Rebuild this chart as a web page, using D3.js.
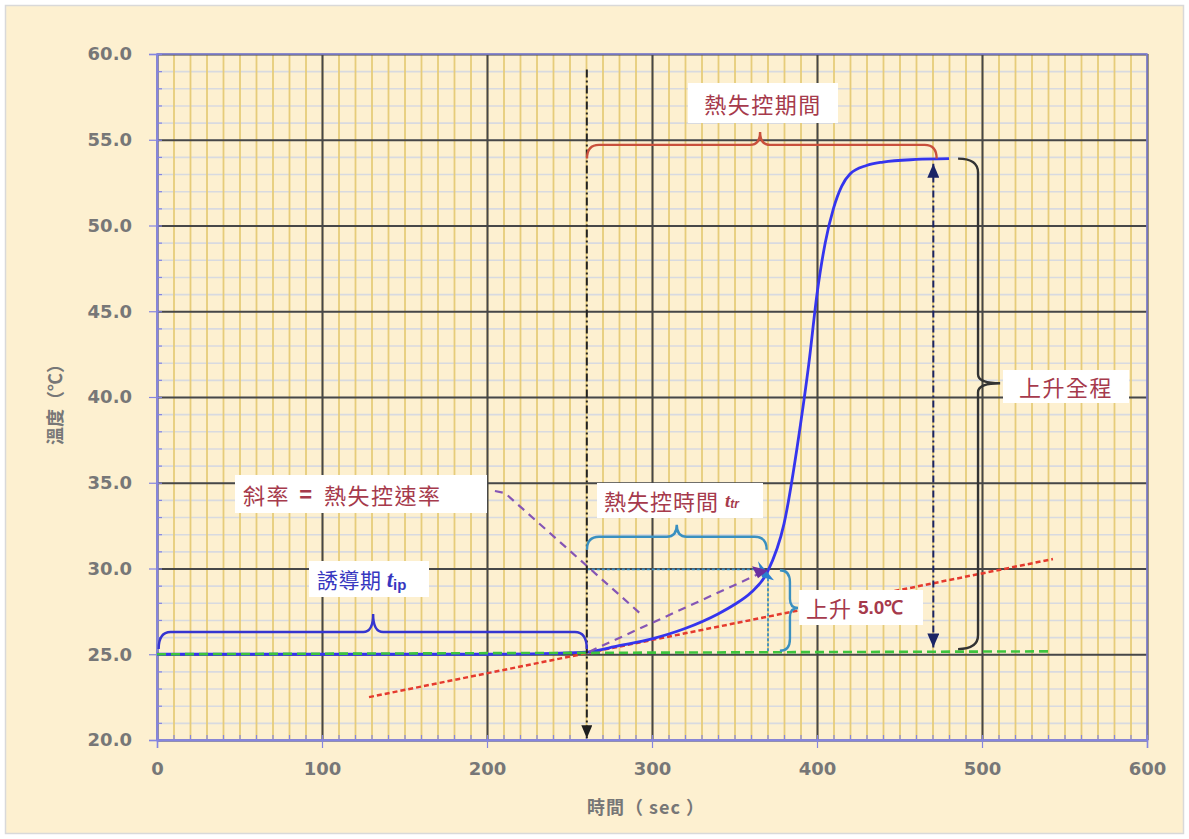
<!DOCTYPE html>
<html><head><meta charset="utf-8">
<script src="https://cdn.jsdelivr.net/npm/d3@7"></script>
<style>
html,body{margin:0;padding:0;background:#fff;}
svg{display:block;}
</style></head>
<body>
<svg id="chart" width="1189" height="839"></svg>
<script>
// ---------- data ----------
const timeSec = [0, 50, 100, 150, 200, 240, 260, 280, 300, 320, 340, 350, 360, 370, 380, 390, 395, 400, 405, 410, 415, 420, 430, 440, 460, 480];
const tempC   = [25.0, 25.0, 25.0, 25.0, 25.0, 25.05, 25.12, 25.5, 25.9, 26.5, 27.35, 27.9, 28.6, 29.8, 32.6, 38.4, 41.9, 46.0, 49.0, 51.0, 52.3, 53.0, 53.5, 53.7, 53.85, 53.9];
const xTicks = [0, 100, 200, 300, 400, 500, 600];
const yTicks = [20, 25, 30, 35, 40, 45, 50, 55, 60];
const baselineX = [0, 543], baselineY = [25.0, 25.17];          // green dashed
const tangentX  = [128.5, 543], tangentY = [22.5, 30.55];       // red dotted
const slopeX    = [262, 368.5], slopeY = [25.15, 29.85];        // purple dashed
const pointerX  = [204.8, 210.9, 293.9], pointerY = [34.52, 34.40, 27.29];
const onsetTime = 260.5, runawayEndTime = 470.5, peakTemp = 53.6, onsetTemp = 25.4;
const tripTime = 370.3, tripTemp = 29.95, riseBase = 25.1;

// ---------- layout ----------
const svg = d3.select("#chart");
const x = d3.scaleLinear().domain([0, 600]).range([157, 1147]);
const y = d3.scaleLinear().domain([20, 60]).range([740, 54]);
const W = 990, H = 686, L = 157, T = 54;

svg.append("rect").attr("x", 5.5).attr("y", 5.5).attr("width", 1178).attr("height", 828)
  .attr("fill", "#fdf0d0").attr("stroke", "#d9d9d9").attr("stroke-width", 1.5);

// minor grids
const minorY = d3.range(20, 60.01, 1);
const minorX = d3.range(0, 600.01, 10);
const g = svg.append("g");
g.append("g").attr("transform", `translate(${L},0)`)
  .call(d3.axisLeft(y).tickValues(minorY).tickSize(-W).tickFormat(""))
  .call(s => { s.select(".domain").remove(); s.selectAll("line").attr("stroke", "#d8dae0").attr("stroke-width", 1.6); });
g.append("g").attr("transform", `translate(0,${T + H})`)
  .call(d3.axisBottom(x).tickValues(minorX).tickSize(-H).tickFormat(""))
  .call(s => { s.select(".domain").remove(); s.selectAll("line").attr("stroke", "#e6cc7a").attr("stroke-width", 1.8); });
// major grids
g.append("g").attr("transform", `translate(${L},0)`)
  .call(d3.axisLeft(y).tickValues(yTicks).tickSize(-W).tickFormat(""))
  .call(s => { s.select(".domain").remove(); s.selectAll("line").attr("stroke", "#474747").attr("stroke-width", 2); });
g.append("g").attr("transform", `translate(0,${T + H})`)
  .call(d3.axisBottom(x).tickValues(xTicks).tickSize(-H).tickFormat(""))
  .call(s => { s.select(".domain").remove(); s.selectAll("line").attr("stroke", "#474747").attr("stroke-width", 2); });

// border (top/right)
svg.append("rect").attr("x", L).attr("y", T).attr("width", W).attr("height", H)
  .attr("fill", "none").attr("stroke", "#8585e0").attr("stroke-width", 1.5);

// axes
const axisColor = "#8585e0";
const yAx = svg.append("g").attr("transform", `translate(${L},0)`)
  .call(d3.axisLeft(y).tickValues(yTicks).tickSize(8).tickPadding(17).tickFormat(d3.format(".1f")));
const yMin = svg.append("g").attr("transform", `translate(${L},0)`)
  .call(d3.axisLeft(y).tickValues(minorY).tickSize(-5).tickFormat(""));
const xAx = svg.append("g").attr("transform", `translate(0,${T + H})`)
  .call(d3.axisBottom(x).tickValues(xTicks).tickSize(8).tickPadding(14).tickFormat(d3.format("d")));
const xMin = svg.append("g").attr("transform", `translate(0,${T + H})`)
  .call(d3.axisBottom(x).tickValues(minorX).tickSize(-5).tickFormat(""));
[yAx, yMin, xAx, xMin].forEach(a => {
  a.select(".domain").attr("stroke", axisColor).attr("stroke-width", 1.5);
  a.selectAll("line").attr("stroke", axisColor).attr("stroke-width", 1.2);
  a.selectAll("text").attr("fill", "#777").attr("font-family", "DejaVu Sans, sans-serif")
    .attr("font-weight", "bold").attr("font-size", 18);
});

// axis titles
svg.append("text").attr("transform", "translate(54,400) rotate(-90)")
  .attr("text-anchor", "middle").attr("dominant-baseline", "central")
  .attr("font-family", "Noto Sans CJK TC, sans-serif").attr("font-size", 18).attr("font-weight", "bold")
  .attr("fill", "#777").text("溫度（℃）");
svg.append("text").attr("x", 646).attr("y", 806)
  .attr("text-anchor", "middle").attr("dominant-baseline", "central")
  .attr("font-family", "Noto Sans CJK TC, sans-serif").attr("font-size", 18).attr("font-weight", "bold")
  .attr("letter-spacing", 1).attr("fill", "#777").text("時間（ sec ）");

// markers
const defs = svg.append("defs");
function marker(id, color, w, h) {
  defs.append("marker").attr("id", id).attr("markerUnits", "userSpaceOnUse")
    .attr("viewBox", `0 0 ${h} ${w}`).attr("refX", h).attr("refY", w / 2)
    .attr("markerWidth", h).attr("markerHeight", w).attr("orient", "auto-start-reverse")
    .append("path").attr("d", `M0,0 L${h},${w / 2} L0,${w} Z`).attr("fill", color);
}
marker("arrBlack", "#1e1e1e", 11, 13);
marker("arrNavy", "#1b2466", 12, 14);
marker("arrPurple", "#7a3fa8", 14, 16);

const line = d3.line().x(d => x(d[0])).y(d => y(d[1]));
const pts = (xs, ys) => xs.map((v, i) => [v, ys[i]]);

// red tangent
svg.append("path").attr("d", line(pts(tangentX, tangentY))).attr("fill", "none")
  .attr("stroke", "#e53a2e").attr("stroke-width", 2.5).attr("stroke-dasharray", "5,3");

// dotted cyan guide
svg.append("path").attr("d", line([[onsetTime, tripTemp], [tripTime, tripTemp], [tripTime, riseBase]]))
  .attr("fill", "none").attr("stroke", "#3b8fc4").attr("stroke-width", 1.8).attr("stroke-dasharray", "3,2");

// main curve
svg.append("path").datum(pts(timeSec, tempC))
  .attr("d", d3.line().x(d => x(d[0])).y(d => y(d[1])).curve(d3.curveMonotoneX))
  .attr("fill", "none").attr("stroke", "#3535ee").attr("stroke-width", 2.8);

// green baseline
svg.append("path").attr("d", line(pts(baselineX, baselineY))).attr("fill", "none")
  .attr("stroke", "#3ec43e").attr("stroke-width", 2.6).attr("stroke-dasharray", "9,5");

// purple slope and pointer
svg.append("path").attr("d", line(pts(slopeX, slopeY))).attr("fill", "none")
  .attr("stroke", "#8555b5").attr("stroke-width", 2.2).attr("stroke-dasharray", "8,6");
svg.append("path").attr("d", line(pts(pointerX, pointerY))).attr("fill", "none")
  .attr("stroke", "#8555b5").attr("stroke-width", 2.2).attr("stroke-dasharray", "8,6");
// markers at the trigger point
const px0 = x(tripTime) - 1, py0 = y(tripTemp);
svg.append("path").attr("d", `M${px0 - 9},${py0 - 8} L${px0 + 7},${py0 + 11} L${px0 - 5},${py0 + 8} Z`).attr("fill", "#2a7fd0");
svg.append("path").attr("d", `M${px0 - 15},${py0 - 3} L${px0 + 1},${py0 + 1} L${px0 - 9},${py0 + 9} Z`).attr("fill", "#6a2fa0");

// vertical dash-dot lines
svg.append("path").attr("d", line([[onsetTime, 59.1], [onsetTime, 20.1]])).attr("fill", "none")
  .attr("stroke", "#222").attr("stroke-width", 2).attr("stroke-dasharray", "8,3,2,3")
  .attr("marker-end", "url(#arrBlack)");
svg.append("path").attr("d", line([[runawayEndTime, onsetTemp], [runawayEndTime, peakTemp]])).attr("fill", "none")
  .attr("stroke", "#1b2466").attr("stroke-width", 2).attr("stroke-dasharray", "7,3,2,3")
  .attr("marker-end", "url(#arrNavy)").attr("marker-start", "url(#arrNavy)");

// braces
function hBrace(x1, x2, yLine, yEnd, xt, yTip, color) {
  const X1 = x(x1), X2 = x(x2), YL = y(yLine), YE = y(yEnd), XT = x(xt), YT = y(yTip);
  const r = Math.min(12, Math.abs(YE - YL) + 4), r2 = 10;
  const d = `M${X1},${YE} Q${X1},${YL} ${X1 + r},${YL} L${XT - r2},${YL} Q${XT},${YL} ${XT},${YT} Q${XT},${YL} ${XT + r2},${YL} L${X2 - r},${YL} Q${X2},${YL} ${X2},${YE}`;
  svg.append("path").attr("d", d).attr("fill", "none").attr("stroke", color).attr("stroke-width", 2.4);
}
function vBrace(y1, y2, xLine, xEnd, yt, xTip, color) {
  const Y1 = y(y1), Y2 = y(y2), XL = x(xLine), XE = x(xEnd), YT = y(yt), XT = x(xTip);
  const r = Math.min(14, Math.abs(XL - XE) + 2), r2 = 9;
  const d = `M${XE},${Y1} Q${XL},${Y1} ${XL},${Y1 + r} L${XL},${YT - r2} Q${XL},${YT} ${XT},${YT} Q${XL},${YT} ${XL},${YT + r2} L${XL},${Y2 - r} Q${XL},${Y2} ${XE},${Y2}`;
  svg.append("path").attr("d", d).attr("fill", "none").attr("stroke", color).attr("stroke-width", 2.4);
}
hBrace(260.6, 472.5, 54.7, 53.9, 365.5, 55.45, "#c9503c");
hBrace(1, 260.5, 26.3, 25.3, 131, 27.35, "#3535d0");
hBrace(260.6, 369.5, 31.85, 31.1, 315, 32.55, "#3a90c0");
vBrace(29.9, 25.2, 383.6, 377.5, 27.7, 388.5, "#3a90c0");
vBrace(53.9, 25.3, 497.6, 485.5, 40.8, 511, "#333");

// labels
const red = "#a63a4c";
const cjk = "Noto Sans CJK TC, sans-serif";
function box(x0, y0, w, h) {
  svg.append("rect").attr("x", x0).attr("y", y0).attr("width", w).attr("height", h).attr("fill", "#fff");
}
function label(xp, yp, parts, anchor) {
  const t = svg.append("text").attr("x", xp).attr("y", yp).attr("dominant-baseline", "central")
    .attr("text-anchor", anchor || "start").attr("font-family", cjk);
  parts.forEach(p => {
    const s = t.append("tspan").text(p.t).attr("fill", p.c || red).attr("font-size", p.s || 22)
      .attr("letter-spacing", p.ls == null ? 1.5 : p.ls);
    if (p.b) s.attr("font-weight", "bold");
    if (p.i) s.attr("font-style", "italic");
    if (p.f) s.attr("font-family", p.f);
    if (p.dy) s.attr("dy", p.dy);
    if (p.dx) s.attr("dx", p.dx);
  });
}
box(688, 83, 150, 40);
label(763, 103, [{ t: "熱失控期間" }], "middle");
box(1003, 370, 126, 33);
label(1066, 386, [{ t: "上升全程" }], "middle");
box(235, 475, 252, 38);
label(243, 494, [{ t: "斜率" }, { t: " = ", f: "Liberation Sans, sans-serif", b: true, ls: 3 }, { t: "熱失控速率" }]);
box(309, 561, 120, 36);
label(317, 579, [{ t: "誘導期 ", c: "#3737c0", s: 21, ls: 0.5 },
  { t: "t", c: "#3737c0", b: true, i: true, f: "Liberation Serif, serif", s: 23, ls: 0 },
  { t: "ip", c: "#3737c0", b: true, f: "Liberation Sans, sans-serif", s: 15, dy: 5, ls: 0 }]);
box(597, 483, 166, 35);
label(604, 500, [{ t: "熱失控時間 ", ls: 1 },
  { t: "t", b: true, i: true, f: "Liberation Serif, serif", s: 19, ls: 0 },
  { t: "tr", b: true, i: true, f: "Liberation Sans, sans-serif", s: 12, dy: 4, ls: 0 }]);
box(799, 590, 124, 35);
label(806, 607, [{ t: "上升 ", ls: 1 }, { t: "5.0℃", b: true, f: "Liberation Sans, sans-serif", s: 19, ls: 0 }]);
</script>
</body></html>
